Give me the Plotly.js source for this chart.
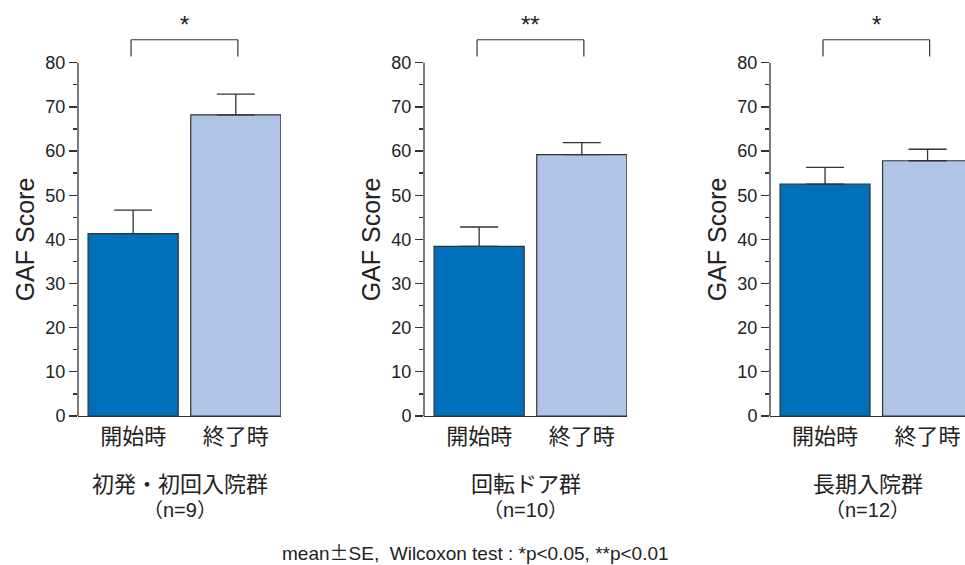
<!DOCTYPE html>
<html>
<head>
<meta charset="utf-8">
<script src="https://cdn.plot.ly/plotly-3.0.1.min.js"></script>
<style>html,body{margin:0;padding:0;background:#fff;}#chart{width:965px;height:565px;}</style>
</head>
<body>
<div id="chart"></div>
<script>
// ---- data ----
const categories = ["開始時", "終了時"];
const groupNames = ["初発・初回入院群", "回転ドア群", "長期入院群"];
const groupN = ["（n=9）", "（n=10）", "（n=12）"];
const meanFirst = [41.3, 68.2];      // 初発・初回入院群
const seFirst = [5.3, 4.7];
const meanRevolving = [38.4, 59.2];  // 回転ドア群
const seRevolving = [4.4, 2.7];
const meanLong = [52.5, 57.8];       // 長期入院群
const seLong = [3.8, 2.6];
const significance = ["*", "**", "*"];
const yTicks = [0, 10, 20, 30, 40, 50, 60, 70, 80];
const yMinorTicks = [5, 15, 25, 35, 45, 55, 65, 75];
const yTitle = "GAF Score";
const noteText = 'mean<span style="font-family:\'Noto Sans CJK JP\'">±</span>SE,  Wilcoxon test : *p&lt;0.05, **p&lt;0.01';

const means = [meanFirst, meanRevolving, meanLong];
const ses = [seFirst, seRevolving, seLong];

const W = 965;
const LATIN = '"Liberation Sans", Arial, sans-serif';
const MIXED = '"Liberation Sans", "Noto Sans CJK JP", sans-serif';
const barColors = ["#0070BB", "#B0C5E5"];
const ink = "#222";
const yMax = 86.5;
const domains = [[78 / W, 281 / W], [424 / W, 627 / W], [770 / W, 1]];
const xRanges = [[-0.537, 1.44], [-0.537, 1.44], [-0.537, 1.365]];

const traces = [];
const layout = {
  width: 965, height: 565,
  margin: {l: 0, r: 0, t: 34, b: 149},
  paper_bgcolor: "#fff", plot_bgcolor: "#fff",
  showlegend: false,
  font: {family: LATIN, color: ink},
  shapes: [], annotations: []
};

const yTop = yTicks[yTicks.length - 1];
for (let g = 0; g < 3; g++) {
  const sfx = g === 0 ? "" : String(g + 1);
  traces.push({
    type: "bar",
    x: categories,
    y: means[g],
    width: 0.878,
    xaxis: "x" + sfx, yaxis: "y" + sfx,
    marker: {color: barColors, line: {color: "#333", width: 1.2}},
    error_y: {type: "data", symmetric: false, array: ses[g], arrayminus: [0, 0],
              color: "#333", thickness: 1.3, width: 19},
    hoverinfo: "skip"
  });
  layout["xaxis" + sfx] = {
    domain: domains[g], anchor: "y" + sfx,
    type: "category", range: xRanges[g],
    showline: true, linecolor: "#333", linewidth: 1.3,
    ticks: "", showgrid: false, zeroline: false,
    tickfont: {size: 22, family: "Noto Sans CJK JP", color: ink},
    fixedrange: true
  };
  layout["yaxis" + sfx] = {
    domain: [0, 1], anchor: "x" + sfx,
    range: [0, yMax],
    showline: false, zeroline: false, showgrid: false,
    tickmode: "array", tickvals: yTicks,
    ticks: "outside", ticklen: 8, tickwidth: 1.3, tickcolor: "#333",
    minor: {tickmode: "array", tickvals: yMinorTicks, ticks: "outside", ticklen: 4, tickwidth: 1.3, tickcolor: "#333"},
    tickfont: {size: 18, color: ink, family: LATIN},
    fixedrange: true
  };
  // y axis title, centred on the 0–80 span of the axis line
  layout.annotations.push({xref: "x" + sfx + " domain", yref: "y" + sfx, x: 0, y: yTop / 2,
    xshift: -53, xanchor: "center", yanchor: "middle", textangle: -90,
    text: yTitle, showarrow: false, font: {size: 25, color: ink, family: LATIN}});
  // y axis line from 0 to 80
  layout.shapes.push({type: "line", xref: "x" + sfx + " domain", yref: "y" + sfx,
    x0: 0, x1: 0, y0: 0, y1: yTop, line: {color: "#333", width: 1.3}});
  // significance bracket
  const bLow = 81.4, bHigh = 85.2;
  layout.shapes.push({type: "line", xref: "x" + sfx, yref: "y" + sfx, x0: -0.02, x1: -0.02, y0: bLow, y1: bHigh, line: {color: "#333", width: 1.2}});
  layout.shapes.push({type: "line", xref: "x" + sfx, yref: "y" + sfx, x0: -0.02, x1: 1.02, y0: bHigh, y1: bHigh, line: {color: "#333", width: 1.2}});
  layout.shapes.push({type: "line", xref: "x" + sfx, yref: "y" + sfx, x0: 1.02, x1: 1.02, y0: bLow, y1: bHigh, line: {color: "#333", width: 1.2}});
  layout.annotations.push({xref: "x" + sfx, yref: "y" + sfx, x: 0.5, y: bHigh, yanchor: "bottom",
    text: significance[g], showarrow: false, font: {size: 24, color: ink, family: LATIN}, yshift: 0});
  // group labels
  layout.annotations.push({xref: "x" + sfx + " domain", yref: "paper", x: 0.5, y: 482, yanchor: "middle",
    text: groupNames[g], showarrow: false, font: {size: 22, family: "Noto Sans CJK JP", color: ink}});
  layout.annotations.push({xref: "x" + sfx + " domain", yref: "paper", x: 0.5, y: 510, yanchor: "middle",
    text: groupN[g], showarrow: false, font: {size: 20, family: MIXED, color: ink}});
}
// convert pixel-based label rows to paper fractions
const plotH = 565 - 34 - 149;
layout.annotations.forEach(a => {
  if (a.yref === "paper") a.y = (565 - 149 - a.y) / plotH;
});
layout.annotations.push({xref: "paper", yref: "paper", x: 475 / W, y: (565 - 149 - 551) / plotH, yanchor: "middle",
  text: noteText, showarrow: false, font: {size: 19, family: LATIN, color: ink}, borderpad: 0});

Plotly.newPlot("chart", traces, layout, {staticPlot: true, displayModeBar: false});
</script>
</body>
</html>
